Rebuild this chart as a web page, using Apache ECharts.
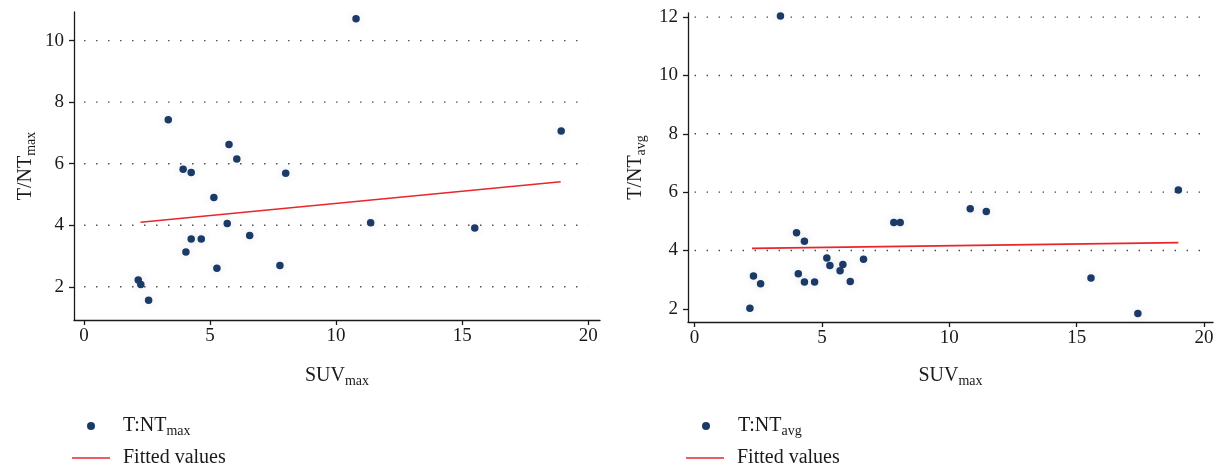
<!DOCTYPE html>
<html>
<head>
<meta charset="utf-8">
<script src="https://cdn.jsdelivr.net/npm/echarts@6/dist/echarts.min.js"></script>
<style>html,body{margin:0;padding:0;background:#fff}#c{width:1227px;height:468px}</style>
</head>
<body>
<div id="c"></div>
<script>
// ---- data ----
const suvLeft = [3.34, 5.75, 6.06, 3.93, 4.25, 8.0, 5.15, 5.68, 6.57, 4.25, 4.65, 4.04, 5.27, 7.77, 2.15, 2.25, 2.56, 10.79, 18.93, 11.37, 15.5];
const tntMax  = [7.43, 6.62, 6.15, 5.82, 5.71, 5.69, 4.90, 4.06, 3.67, 3.55, 3.55, 3.13, 2.60, 2.69, 2.22, 2.07, 1.56, 10.71, 7.06, 4.08, 3.91];
const suvRight = [3.37, 4.0, 4.31, 4.07, 4.31, 4.71, 5.19, 5.31, 5.82, 5.71, 6.11, 6.63, 7.82, 8.07, 2.31, 2.59, 2.17, 10.82, 11.45, 18.99, 15.56, 17.4];
const tntAvg   = [12.04, 4.61, 4.32, 3.20, 2.92, 2.92, 3.74, 3.49, 3.52, 3.31, 2.94, 3.70, 4.96, 4.96, 3.13, 2.86, 2.02, 5.43, 5.34, 6.07, 3.06, 1.84];
const fitMaxX = [2.24, 18.91];
const fitMaxY = [4.10, 5.41];
const fitAvgX = [2.25, 18.99];
const fitAvgY = [4.07, 4.27];
const xTicks = [0, 5, 10, 15, 20];
const yTicksMax = [2, 4, 6, 8, 10];
const yTicksAvg = [2, 4, 6, 8, 10, 12];
const gridLinesMax = [2, 4, 6, 8, 10];
const gridLinesAvg = [4, 6, 8, 10, 12];

const FONT = "'Liberation Serif', 'DejaVu Serif', serif";
const NAVY = '#1b3a66';
const RED = '#e8262c';
const AX = '#1a1a1a';
const LINE_ICON = 'path://M0,0L38,0L38,1.7L0,1.7Z';

function zip(a, b) { return a.map((v, i) => [v, b[i]]); }
const subRich = { s: { fontFamily: FONT, fontSize: 14, color: AX, padding: [10, 0, 0, 0] } };

function xAxisCfg(gridIndex, min, max, gap) {
  return {
    type: 'value', gridIndex, min, max,
    name: 'SUV{s|max}', nameLocation: 'middle', nameGap: gap,
    nameTextStyle: { fontFamily: FONT, fontSize: 20, color: AX, rich: subRich },
    axisLine: { show: true, onZero: false, lineStyle: { color: AX, width: 1.3 } },
    axisTick: { show: true, length: 5, lineStyle: { color: AX, width: 1.3 }, customValues: xTicks },
    axisLabel: { fontFamily: FONT, fontSize: 19, color: AX, margin: 7, customValues: xTicks },
    splitLine: { show: false }
  };
}
function yAxisCfg(gridIndex, min, max, ticks, sub, gap) {
  return {
    type: 'value', gridIndex, min, max,
    name: 'T/NT{s|' + sub + '}', nameLocation: 'middle', nameGap: gap,
    nameTextStyle: { fontFamily: FONT, fontSize: 20, color: AX, rich: subRich },
    axisLine: { show: true, onZero: false, lineStyle: { color: AX, width: 1.3 } },
    axisTick: { show: true, length: 5, lineStyle: { color: AX, width: 1.3 }, customValues: ticks },
    axisLabel: { fontFamily: FONT, fontSize: 19, color: AX, margin: 10, customValues: ticks },
    splitLine: { show: false }
  };
}
function gridSeries(idx, values) {
  return values.map(v => ({
    type: 'line', xAxisIndex: idx, yAxisIndex: idx, silent: true, symbol: 'none', z: 1,
    data: [[xTicks[0], v], [xTicks[xTicks.length - 1], v]],
    lineStyle: { color: '#444', width: 1.4, type: [1.4, 10.6] }
  }));
}
function legendRow(left, top, item) {
  return {
    left, top, orient: 'horizontal', selectedMode: false, padding: 0,
    itemWidth: 38, itemHeight: 8, itemGap: 0,
    data: [item],
    formatter: n => n === 'T:NTmax' ? 'T:NT{s|max}' : (n === 'T:NTavg' ? 'T:NT{s|avg}' : n),
    textStyle: { fontFamily: FONT, fontSize: 20, color: AX, padding: [0, 0, 0, 8], rich: subRich }
  };
}

const option = {
  animation: false,
  backgroundColor: '#fff',
  grid: [
    { left: 74, right: 627, top: 12, bottom: 148 },
    { left: 688, right: 14, top: 13, bottom: 146 }
  ],
  xAxis: [xAxisCfg(0, -0.4, 20.47, 44), xAxisCfg(1, -0.26, 20.35, 42)],
  yAxis: [yAxisCfg(0, 0.92, 10.93, yTicksMax, 'max', 36), yAxisCfg(1, 1.55, 12.14, yTicksAvg, 'avg', 40)],
  legend: [
    legendRow(87, 416, { name: 'T:NTmax', icon: 'circle' }),
    legendRow(72, 448, { name: 'Fitted values', icon: LINE_ICON }),
    legendRow(702, 416, { name: 'T:NTavg', icon: 'circle' }),
    legendRow(686, 448, { name: 'Fitted values', icon: LINE_ICON })
  ],
  series: [
    ...gridSeries(0, gridLinesMax),
    ...gridSeries(1, gridLinesAvg),
    { name: 'Fitted values', type: 'line', xAxisIndex: 0, yAxisIndex: 0, symbol: 'none', z: 3,
      data: zip(fitMaxX, fitMaxY), lineStyle: { color: RED, width: 1.5 }, itemStyle: { color: RED } },
    { name: 'Fitted values', type: 'line', xAxisIndex: 1, yAxisIndex: 1, symbol: 'none', z: 3,
      data: zip(fitAvgX, fitAvgY), lineStyle: { color: RED, width: 1.8 }, itemStyle: { color: RED } },
    { name: 'T:NTmax', type: 'scatter', xAxisIndex: 0, yAxisIndex: 0, symbolSize: 7.5, z: 4,
      data: zip(suvLeft, tntMax),
      itemStyle: { color: NAVY, opacity: 1, shadowBlur: 8, shadowColor: 'rgba(40,70,120,0.15)' } },
    { name: 'T:NTavg', type: 'scatter', xAxisIndex: 1, yAxisIndex: 1, symbolSize: 7.5, z: 4,
      data: zip(suvRight, tntAvg),
      itemStyle: { color: NAVY, opacity: 1, shadowBlur: 8, shadowColor: 'rgba(40,70,120,0.15)' } }
  ]
};
const chart = echarts.init(document.getElementById('c'), null, { renderer: 'canvas' });
chart.setOption(option);
</script>
</body>
</html>
